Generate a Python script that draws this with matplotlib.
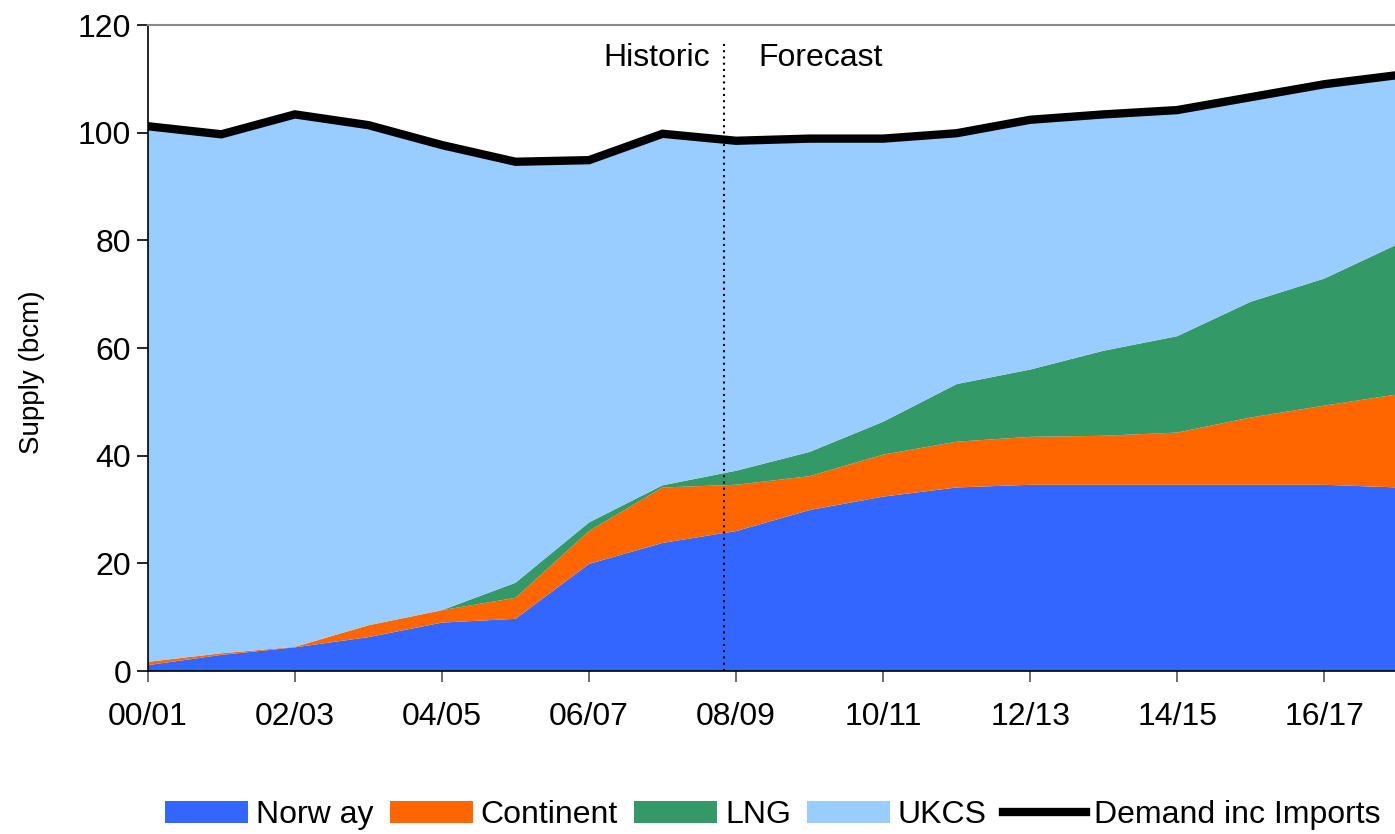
import numpy as np
import matplotlib.pyplot as plt

# UK gas supply by source, bcm
years = ['00/01', '01/02', '02/03', '03/04', '04/05', '05/06', '06/07', '07/08', '08/09',
         '09/10', '10/11', '11/12', '12/13', '13/14', '14/15', '15/16', '16/17', '17/18']
norway = [1.1, 3.0, 4.4, 6.3, 9.0, 9.7, 19.9, 23.8, 26.0,
          29.9, 32.4, 34.1, 34.6, 34.6, 34.6, 34.6, 34.6, 34.1]
continent = [0.6, 0.3, 0.1, 2.2, 2.3, 3.9, 6.1, 10.3, 8.6,
             6.3, 7.8, 8.5, 8.9, 9.1, 9.7, 12.5, 14.7, 17.3]
lng = [0.0, 0.0, 0.0, 0.0, 0.0, 2.8, 1.6, 0.4, 2.6,
       4.5, 6.1, 10.7, 12.5, 15.8, 17.9, 21.5, 23.6, 27.9]
demand = [101.2, 99.7, 103.4, 101.4, 97.7, 94.6, 94.9, 99.8, 98.5,
          98.9, 98.9, 99.9, 102.4, 103.4, 104.2, 106.6, 109.0, 110.7]

above = np.array(norway) + np.array(continent) + np.array(lng)
ukcs = list(np.array(demand) - above)

plt.rcParams['font.family'] = ['Liberation Sans', 'DejaVu Sans']
fs = 23

fig = plt.figure(figsize=(13.95, 8.34), dpi=100)
ax = fig.add_axes([0.106, 0.1954, 0.896, 0.7746])

x = np.arange(len(years))
ax.stackplot(x, norway, continent, lng, ukcs,
             colors=['#3366FF', '#FF6600', '#339966', '#99CCFF'],
             labels=['Norw ay', 'Continent', 'LNG', 'UKCS'], linewidth=0)
ax.plot(x, demand, color='black', linewidth=6, solid_joinstyle='miter',
        label='Demand inc Imports')

# historic / forecast divider
ax.plot([7.83, 7.83], [0, 117], color='black', linestyle=(0, (1, 2)), linewidth=1.5)
ax.text(7.65, 113.8, 'Historic', ha='right', va='center', fontsize=fs)
ax.text(8.3, 113.8, 'Forecast', ha='left', va='center', fontsize=fs)

ax.set_xlim(0, 17)
ax.set_ylim(0, 120)
ax.set_xticks(x[::2])
ax.set_xticklabels(years[::2], fontsize=fs)
ax.set_yticks(range(0, 121, 20))
ax.tick_params(axis='y', labelsize=fs, length=8, width=1.2, direction='out', pad=4)
ax.tick_params(axis='x', length=8, width=1.2, color='#555555', direction='out', pad=14)
ax.set_ylabel('Supply (bcm)', fontsize=20)
ax.yaxis.set_label_coords(-0.082, 0.463)

ax.spines['right'].set_visible(False)
ax.spines['top'].set_color('#888888')
ax.spines['top'].set_linewidth(1.5)
ax.spines['left'].set_linewidth(1.2)
ax.spines['bottom'].set_linewidth(1.2)

fig.legend(loc='lower center', bbox_to_anchor=(0.554, -0.03), ncol=5, frameon=False,
           fontsize=fs, handlelength=2.6, handleheight=0.7, handletextpad=0.25,
           columnspacing=0.5)

fig.savefig('out.png', dpi=100)
